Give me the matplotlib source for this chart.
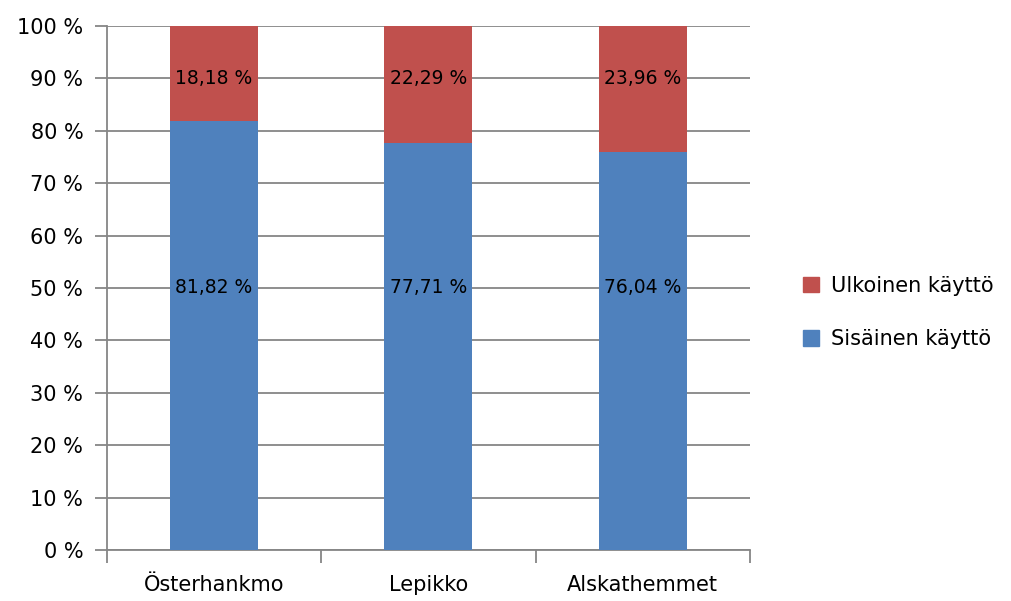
import matplotlib.pyplot as plt
from matplotlib.patches import Patch

locations = ["Österhankmo", "Lepikko", "Alskathemmet"]
internal_use = [81.82, 77.71, 76.04]   # Sisäinen käyttö
external_use = [18.18, 22.29, 23.96]   # Ulkoinen käyttö

blue = "#4F81BD"
red = "#C0504D"
grey = "#868686"


def pct(v):
    # Finnish style: decimal comma and a space before %
    return f"{v:.2f}".replace(".", ",") + " %"


fig = plt.figure(figsize=(10.12, 6.01), dpi=100)
ax = fig.add_axes([0.1057, 0.0849, 0.6353, 0.8718])

x = range(len(locations))
ax.bar(x, internal_use, width=0.41, color=blue, zorder=3)
ax.bar(x, external_use, width=0.41, bottom=internal_use, color=red, zorder=3)

for i in x:
    ax.text(i, 50, pct(internal_use[i]), ha="center", va="center", fontsize=13.5, zorder=4)
    ax.text(i, 90, pct(external_use[i]), ha="center", va="center", fontsize=13.5, zorder=4)

ax.set_xlim(-0.5, 2.5)
ax.set_ylim(0, 100)
ax.set_yticks(range(0, 101, 10))
ax.set_yticklabels([f"{t} %" for t in range(0, 101, 10)], fontsize=15)
ax.yaxis.grid(True, color=grey, linewidth=1.3, zorder=0)

# category labels centred, tick marks on the category boundaries
ax.set_xticks(list(x))
ax.set_xticklabels(locations, fontsize=15)
ax.tick_params(axis="x", length=0, pad=18)
ax.set_xticks([-0.5, 0.5, 1.5, 2.5], minor=True)
ax.tick_params(axis="x", which="minor", length=9, width=1.3, color=grey, direction="out")
ax.tick_params(axis="y", length=9, width=1.3, color=grey, pad=8)

for side in ["top", "right"]:
    ax.spines[side].set_visible(False)
for side in ["left", "bottom"]:
    ax.spines[side].set_color(grey)
    ax.spines[side].set_linewidth(1.3)

handles = [Patch(color=red, label="Ulkoinen käyttö"),
           Patch(color=blue, label="Sisäinen käyttö")]
fig.legend(handles=handles, loc="center left", bbox_to_anchor=(0.775, 0.48),
           frameon=False, fontsize=15, handlelength=0.75, handleheight=0.75,
           labelspacing=1.6, handletextpad=0.6)

fig.savefig("out.png", dpi=100)
